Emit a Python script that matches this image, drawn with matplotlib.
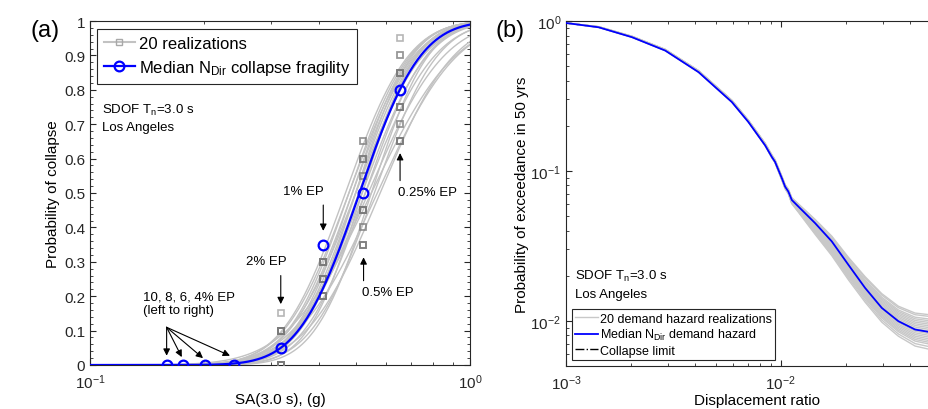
import math
import numpy as np
import matplotlib
matplotlib.use('Agg')
import matplotlib.pyplot as plt
from matplotlib.lines import Line2D
from matplotlib.ticker import MultipleLocator, LogLocator, NullFormatter

plt.rcParams['font.family'] = ['Liberation Sans', 'DejaVu Sans']
plt.rcParams['mathtext.fontset'] = 'custom'
plt.rcParams['mathtext.rm'] = 'Liberation Sans'
plt.rcParams['mathtext.it'] = 'Liberation Sans:italic'

# ---- Panel (a): collapse fragility ----
# SA at each exceedance probability level (10, 8, 6, 4, 2, 1, 0.5, 0.25 % in 50 yrs)
ep_sa = [0.159, 0.176, 0.201, 0.240, 0.318, 0.410, 0.524, 0.654]
median_frac = [0.0, 0.0, 0.0, 0.0, 0.05, 0.35, 0.50, 0.80]

# fraction collapsed per realization at 2, 1, 0.5, 0.25 % EP
frac_2pct = [0.00, 0.10, 0.00, 0.10, 0.15, 0.00, 0.10, 0.00, 0.10, 0.00,
             0.10, 0.00, 0.10, 0.00, 0.10, 0.00, 0.10, 0.00, 0.10, 0.00]
frac_1pct = [0.20, 0.25, 0.30, 0.20, 0.25, 0.30, 0.20, 0.25, 0.30, 0.20,
             0.25, 0.30, 0.20, 0.25, 0.30, 0.20, 0.25, 0.30, 0.25, 0.30]
frac_05pct = [0.35, 0.35, 0.40, 0.45, 0.45, 0.45, 0.55, 0.60, 0.60, 0.65,
              0.35, 0.45, 0.60, 0.45, 0.55, 0.35, 0.60, 0.45, 0.40, 0.65]
frac_025pct = [0.65, 0.65, 0.70, 0.75, 0.75, 0.85, 0.85, 0.90, 0.95, 0.65,
               0.75, 0.85, 0.75, 0.85, 0.65, 0.70, 0.85, 0.75, 0.65, 0.90]

# fitted lognormal fragility parameters
median_theta = 0.512
median_beta = 0.29
real_theta = [0.47, 0.48, 0.48, 0.49, 0.49, 0.50, 0.50, 0.50, 0.51, 0.51,
              0.52, 0.52, 0.53, 0.53, 0.54, 0.55, 0.55, 0.56, 0.57, 0.58]
real_beta = [0.30, 0.29, 0.31, 0.28, 0.30, 0.27, 0.29, 0.32, 0.28, 0.30,
             0.26, 0.31, 0.29, 0.33, 0.36, 0.27, 0.40, 0.30, 0.38, 0.35]

# ---- Panel (b): demand hazard ----
haz_disp = [0.001000, 0.001419, 0.002028, 0.002897, 0.004140, 0.005916,
            0.007063, 0.008453, 0.009078, 0.009397, 0.01012, 0.01047,
            0.01084, 0.01125, 0.01208, 0.01445, 0.01726, 0.02061, 0.02466,
            0.02951, 0.03524, 0.04217, 0.04864, 0.05500, 0.06000]
haz_median = [0.970, 0.908, 0.780, 0.635, 0.456, 0.288, 0.212, 0.148, 0.124,
              0.115, 0.0891, 0.0785, 0.0728, 0.0640, 0.0578, 0.0448, 0.0339,
              0.0237, 0.0166, 0.0122, 0.00995, 0.00875, 0.00845, 0.0083,
              0.0082]
# spread of the realizations around the median (log10 units)
haz_spread = [0.0, 0.002, 0.003, 0.004, 0.005, 0.006, 0.006, 0.008, 0.010,
              0.010, 0.013, 0.014, 0.016, 0.020, 0.028, 0.050, 0.065, 0.075,
              0.085, 0.095, 0.100, 0.110, 0.115, 0.120, 0.120]
haz_bias = [0.0, 0.002, 0.003, 0.004, 0.005, 0.006, 0.006, 0.006, 0.004,
            0.004, 0.0, 0.0, 0.0, -0.005, -0.010, -0.025, -0.030, -0.025,
            -0.010, 0.0, 0.0, 0.0, 0.0, 0.0, 0.0]
haz_k = [-1.0, -0.85, -0.7, -0.6, -0.5, -0.4, -0.3, -0.2, -0.1, 0.0,
         0.05, 0.15, 0.25, 0.35, 0.45, 0.55, 0.65, 0.75, 0.9, 1.0]

GRAY_LINE = '#c2c2c2'
GRAY_MARK = '#7a7a7a'
BLUE = '#0000ff'
AX_COLOR = '#262626'

erf = np.vectorize(math.erf)


def lognorm_cdf(x, theta, beta):
    return 0.5 * (1 + erf(np.log(x / theta) / (beta * math.sqrt(2))))


def style_axes(ax):
    for s in ax.spines.values():
        s.set_color(AX_COLOR)
        s.set_linewidth(0.8)
    ax.tick_params(which='both', direction='in', top=True, right=True,
                   colors=AX_COLOR, labelcolor='#262626', labelsize=11)
    ax.tick_params(which='major', length=4)
    ax.tick_params(which='minor', length=2.5)
    ax.tick_params(axis='x', which='both', pad=5)


fig = plt.figure(figsize=(9.29, 4.10), dpi=100)
ax1 = fig.add_axes([90 / 929, 44 / 410, 380 / 929, 344 / 410])
ax2 = fig.add_axes([566 / 929, 43 / 410, 382 / 929, 345 / 410])

# ---- (a) ----
sa = np.logspace(-1, 0, 400)
for th, b in zip(real_theta, real_beta):
    ax1.plot(sa, lognorm_cdf(sa, th, b), color=GRAY_LINE, lw=1.0, zorder=2)

for i, fr in enumerate([frac_2pct, frac_1pct, frac_05pct, frac_025pct]):
    ax1.plot([ep_sa[4 + i]] * len(fr), fr, ls='none', marker='s', ms=5,
             mfc='none', mec=GRAY_MARK, mew=1.2, alpha=0.55, zorder=3)

ax1.plot(sa, lognorm_cdf(sa, median_theta, median_beta), color=BLUE, lw=1.6,
         zorder=4)
ax1.plot(ep_sa, median_frac, ls='none', marker='o', ms=7, mfc='none',
         mec=BLUE, mew=1.6, zorder=5)

ax1.set_xscale('log')
ax1.set_xlim(0.1, 1)
ax1.set_ylim(0, 1)
ax1.set_yticks(np.arange(0, 1.01, 0.1))
ax1.set_yticklabels(['0', '0.1', '0.2', '0.3', '0.4', '0.5', '0.6', '0.7',
                     '0.8', '0.9', '1'])
ax1.yaxis.set_minor_locator(MultipleLocator(0.02))
ax1.xaxis.set_major_locator(LogLocator(base=10))
ax1.xaxis.set_minor_locator(LogLocator(base=10, subs=np.arange(2, 10)))
ax1.xaxis.set_minor_formatter(NullFormatter())
style_axes(ax1)
ax1.set_xlabel('SA(3.0 s), (g)', fontsize=11, labelpad=1)
ax1.set_ylabel('Probability of collapse', fontsize=11, labelpad=3)

leg_handles = [
    Line2D([], [], color=GRAY_LINE, lw=1.5, marker='s', ms=5, mfc='none',
           mec='#a8a8a8'),
    Line2D([], [], color=BLUE, lw=1.6, marker='o', ms=7, mfc='none', mec=BLUE,
           mew=1.6),
]
leg = ax1.legend(leg_handles, ['20 realizations',
                               r'Median N$_{\rm Dir}$ collapse fragility'],
                 loc='upper left', bbox_to_anchor=(0.018, 0.977),
                 borderaxespad=0, fontsize=12, handlelength=1.9,
                 handletextpad=0.2, labelspacing=0.45, borderpad=0.4,
                 fancybox=False, framealpha=1, edgecolor='#262626')
leg.get_frame().set_linewidth(0.8)

ax1.text(0.032, 0.744, r'SDOF T$_{\rm n}$=3.0 s', transform=ax1.transAxes,
         fontsize=9.5, va='center')
ax1.text(0.032, 0.692, 'Los Angeles', transform=ax1.transAxes,
         fontsize=9.5, va='center')

arrow = dict(arrowstyle='-|>', color='k', lw=0.8, mutation_scale=10,
             shrinkA=0, shrinkB=0)
ax1.text(0.1379, 0.180, '10, 8, 6, 4% EP\n(left to right)', fontsize=9.5,
         ha='left', va='center', linespacing=1.1)
for xe, ye in [(0.1591, 0.027), (0.1744, 0.023), (0.1983, 0.020),
               (0.2335, 0.027)]:
    ax1.annotate('', xy=(xe, ye), xytext=(0.1591, 0.1096), arrowprops=arrow)

ax1.text(0.291, 0.302, '2% EP', fontsize=9.5, ha='center', va='center')
ax1.annotate('', xy=(0.3177, 0.177), xytext=(0.3177, 0.26), arrowprops=arrow)
ax1.text(0.3634, 0.507, '1% EP', fontsize=9.5, ha='center', va='center')
ax1.annotate('', xy=(0.411, 0.39), xytext=(0.411, 0.465), arrowprops=arrow)
ax1.text(0.6067, 0.211, '0.5% EP', fontsize=9.5, ha='center', va='center')
ax1.annotate('', xy=(0.5247, 0.313), xytext=(0.5247, 0.245), arrowprops=arrow)
ax1.text(0.7718, 0.503, '0.25% EP', fontsize=9.5, ha='center', va='center')
ax1.annotate('', xy=(0.6546, 0.616), xytext=(0.6546, 0.536), arrowprops=arrow)

# ---- (b) ----
disp = np.array(haz_disp)
med = np.array(haz_median)
spread = np.array(haz_spread)
bias = np.array(haz_bias)
for k in haz_k:
    ax2.plot(disp, med * 10 ** (bias + k * spread), color='#c8c8c8', lw=1.0,
             zorder=2)
ax2.plot(disp, med, color=BLUE, lw=1.3, zorder=3)

ax2.set_xscale('log')
ax2.set_yscale('log')
ax2.set_xlim(1e-3, 0.06)
ax2.set_ylim(0.005, 1)
ax2.xaxis.set_minor_formatter(NullFormatter())
ax2.yaxis.set_minor_formatter(NullFormatter())
style_axes(ax2)
ax2.set_xlabel('Displacement ratio', fontsize=11, labelpad=1)
ax2.set_ylabel('Probability of exceedance in 50 yrs', fontsize=11, labelpad=1)

ax2.text(0.024, 0.262, r'SDOF T$_{\rm n}$=3.0 s', transform=ax2.transAxes,
         fontsize=9.5, va='center')
ax2.text(0.024, 0.210, 'Los Angeles', transform=ax2.transAxes,
         fontsize=9.5, va='center')

haz_handles = [
    Line2D([], [], color='#c8c8c8', lw=1.0),
    Line2D([], [], color=BLUE, lw=1.3),
    Line2D([], [], color='k', lw=1.0, ls='-.'),
]
leg2 = ax2.legend(haz_handles, ['20 demand hazard realizations',
                                r'Median N$_{\rm Dir}$ demand hazard',
                                'Collapse limit'],
                  loc='lower left', bbox_to_anchor=(0.016, 0.018),
                  borderaxespad=0, fontsize=9, handlelength=1.8,
                  handletextpad=0.2, labelspacing=0.2, borderpad=0.25,
                  fancybox=False, framealpha=1, edgecolor='#262626')
leg2.get_frame().set_linewidth(0.8)

fig.text(45 / 929, 1 - 31 / 410, '(a)', fontsize=17, ha='center',
         va='center')
fig.text(510 / 929, 1 - 31 / 410, '(b)', fontsize=17, ha='center',
         va='center')

fig.savefig('out.png', dpi=100)
